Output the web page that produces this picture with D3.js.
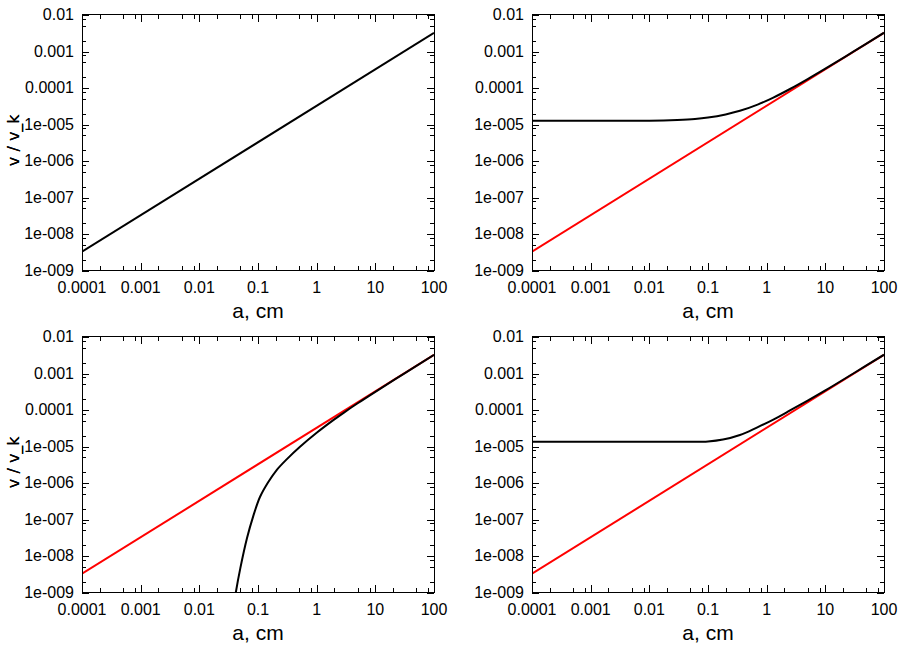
<!DOCTYPE html>
<html>
<head>
<meta charset="utf-8">
<script src="https://cdn.jsdelivr.net/npm/d3@7"></script>
<style>
  body { margin: 0; background: #fff; }
  svg { display: block; }
</style>
</head>
<body>
<script>
//Chart data
var xTickLabels = ["0.0001", "0.001", "0.01", "0.1", "1", "10", "100"];
var yTickLabels = ["1e-009", "1e-008", "1e-007", "1e-006", "1e-005", "0.0001", "0.001", "0.01"];
var xTitle = "a, cm";
var yTitle = "v / v_k";

//straight reference line (black in panel 1, red in the others)
var aLine = [0.0001, 100];
var vLine = [3.16e-9, 3.16e-3];

//panel 2 (top right) black curve
var a2 = [0.0001, 0.001, 0.01, 0.03, 0.06, 0.1, 0.2, 0.35, 0.7, 1.3, 2.5, 5, 10, 30, 100];
var v2 = [1.22e-5, 1.22e-5, 1.23e-5, 1.29e-5, 1.37e-5, 1.5e-5, 1.83e-5, 2.3e-5, 3.4e-5, 5.3e-5, 9.1e-5, 1.7e-4, 3.28e-4, 9.6e-4, 3.17e-3];

//panel 3 (bottom left) black curve
var a3 = [0.038, 0.042, 0.05, 0.065, 0.083, 0.108, 0.148, 0.208, 0.308, 0.52, 1.0, 1.92, 3, 5, 10, 30, 100];
var v3 = [3.5e-10, 1e-9, 4.5e-9, 3e-8, 1.2e-7, 4e-7, 1e-6, 2.19e-6, 4.3e-6, 9.5e-6, 2.3e-5, 5.1e-5, 8.5e-5, 1.48e-4, 3.05e-4, 9.35e-4, 3.15e-3];

//panel 4 (bottom right) black curve
var a4 = [0.0001, 0.001, 0.01, 0.05, 0.1, 0.18, 0.35, 0.68, 1.3, 2.5, 5, 10, 30, 100];
var v4 = [1.3e-5, 1.3e-5, 1.3e-5, 1.3e-5, 1.33e-5, 1.5e-5, 2.0e-5, 3.2e-5, 5.3e-5, 9.4e-5, 1.75e-4, 3.33e-4, 9.7e-4, 3.17e-3];

//Width and height
var W = 922, H = 652;
var pw = 352, ph = 255.5;

var panels = [
    {x: 82,  y: 14.5,  black: [aLine, vLine], red: null},
    {x: 532, y: 14.5,  black: [a2, v2],       red: [aLine, vLine]},
    {x: 82,  y: 336.5, black: [a3, v3],       red: [aLine, vLine]},
    {x: 532, y: 336.5, black: [a4, v4],       red: [aLine, vLine]}
];

var svg = d3.select("body")
            .append("svg")
            .attr("width", W)
            .attr("height", H);

var x = d3.scaleLog().domain([1e-4, 100]).range([0, pw]);
var y = d3.scaleLog().domain([1e-9, 1e-2]).range([ph, 0]);

//major ticks at each decade, minor ticks at 2, 5 and 8
function mant(v) { return Math.round(v / Math.pow(10, Math.floor(Math.log10(v) + 1e-9))); }
var xMajor = x.ticks().filter(function(d) { return mant(d) == 1; });
var xMinor = x.ticks().filter(function(d) { var m = mant(d); return m == 2 || m == 5 || m == 8; });
var yMajor = y.ticks().filter(function(d) { return mant(d) == 1; });
var yMinor = y.ticks().filter(function(d) { var m = mant(d); return m == 2 || m == 5 || m == 8; });

var line = d3.line()
             .x(function(d) { return x(d[0]); })
             .y(function(d) { return y(d[1]); })
             .curve(d3.curveCatmullRom.alpha(0.5));

panels.forEach(function(p, i) {
    var g = svg.append("g").attr("transform", "translate(" + p.x + "," + p.y + ")");

    g.append("clipPath").attr("id", "clip" + i)
     .append("rect").attr("width", pw).attr("height", ph);

    var plot = g.append("g").attr("clip-path", "url(#clip" + i + ")");

    if (p.red) {
        plot.append("path")
            .datum(d3.zip(p.red[0], p.red[1]))
            .attr("d", line)
            .attr("fill", "none")
            .attr("stroke", "#ff0000")
            .attr("stroke-width", 2);
    }
    plot.append("path")
        .datum(d3.zip(p.black[0], p.black[1]))
        .attr("d", line)
        .attr("fill", "none")
        .attr("stroke", "#000")
        .attr("stroke-width", 2);

    //ticks on all four sides, pointing in
    var ticks = g.append("g")
                 .attr("stroke", "#000")
                 .attr("stroke-width", 1)
                 .attr("shape-rendering", "crispEdges");

    function xTicks(vals, len) {
        vals.forEach(function(d) {
            var px = Math.round(x(d)) + 0.5;
            ticks.append("line").attr("x1", px).attr("x2", px).attr("y1", ph).attr("y2", ph - len);
            ticks.append("line").attr("x1", px).attr("x2", px).attr("y1", 0).attr("y2", len);
        });
    }
    function yTicks(vals, len) {
        vals.forEach(function(d) {
            var py = Math.round(y(d)) + 0.5;
            ticks.append("line").attr("y1", py).attr("y2", py).attr("x1", 0).attr("x2", len);
            ticks.append("line").attr("y1", py).attr("y2", py).attr("x1", pw).attr("x2", pw - len);
        });
    }
    xTicks(xMajor, 7); xTicks(xMinor, 4);
    yTicks(yMajor, 7); yTicks(yMinor, 4);

    g.append("rect")
     .attr("width", pw)
     .attr("height", ph)
     .attr("fill", "none")
     .attr("stroke", "#000")
     .attr("stroke-width", 1)
     .attr("shape-rendering", "crispEdges");

    //tick labels
    g.selectAll(".xl")
     .data(xMajor)
     .enter()
     .append("text")
     .attr("x", function(d) { return x(d); })
     .attr("y", ph + 23)
     .attr("text-anchor", "middle")
     .attr("font-family", "Liberation Sans, Arial, sans-serif")
     .attr("font-size", 16)
     .text(function(d, j) { return xTickLabels[j]; });

    g.selectAll(".yl")
     .data(yMajor)
     .enter()
     .append("text")
     .attr("x", -8)
     .attr("y", function(d) { return y(d); })
     .attr("dy", "0.36em")
     .attr("text-anchor", "end")
     .attr("font-family", "Liberation Sans, Arial, sans-serif")
     .attr("font-size", 16)
     .text(function(d, j) { return yTickLabels[j]; });

    //axis titles
    g.append("text")
     .attr("x", pw / 2)
     .attr("y", ph + 48)
     .attr("text-anchor", "middle")
     .attr("font-family", "Liberation Sans, Arial, sans-serif")
     .attr("font-size", 21)
     .text(xTitle);

    g.append("text")
     .attr("transform", "translate(" + (19 - p.x) + "," + (ph / 2 - 2) + ") rotate(-90)")
     .attr("text-anchor", "middle")
     .attr("font-family", "DejaVu Sans, sans-serif")
     .attr("font-size", 16)
     .text(yTitle);
});
</script>
</body>
</html>
